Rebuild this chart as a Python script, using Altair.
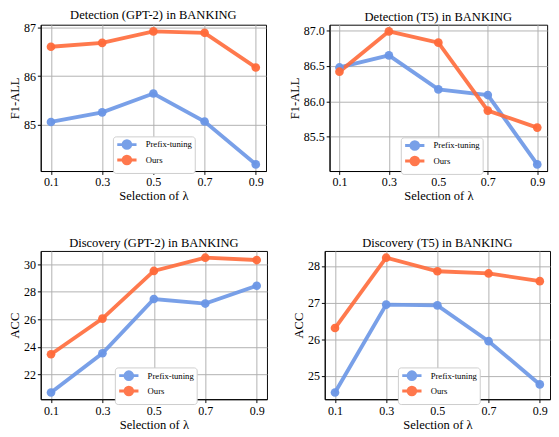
import altair as alt
import pandas as pd

lambdas = [0.1, 0.3, 0.5, 0.7, 0.9]
methods = ["Prefix-tuning", "Ours"]

det_gpt2_prefix = [85.05, 85.25, 85.64, 85.06, 84.17]
det_gpt2_ours = [86.61, 86.69, 86.93, 86.90, 86.18]
det_t5_prefix = [86.48, 86.65, 86.17, 86.09, 85.11]
det_t5_ours = [86.42, 86.99, 86.83, 85.87, 85.63]
dis_gpt2_prefix = [20.71, 23.55, 27.48, 27.15, 28.44]
dis_gpt2_ours = [23.48, 26.06, 29.51, 30.47, 30.30]
dis_t5_prefix = [24.55, 26.95, 26.93, 25.95, 24.77]
dis_t5_ours = [26.31, 28.23, 27.86, 27.80, 27.59]

titles = ["Detection (GPT-2) in BANKING", "Detection (T5) in BANKING",
          "Discovery (GPT-2) in BANKING", "Discovery (T5) in BANKING"]
ytitles = ["F1-ALL", "F1-ALL", "ACC", "ACC"]
yticks = [[85, 86, 87], [85.5, 86.0, 86.5, 87.0], [22, 24, 26, 28, 30], [25, 26, 27, 28]]
yformats = ["d", ".1f", "d", "d"]

BLUE = "#6a96e6"
ORANGE = "#ff6a3a"
FONT = "'Liberation Serif', 'Times New Roman', 'DejaVu Serif', serif"
LEGEND_SYMBOL = "M-2.5,0L2.5,0M1,0A1,1,0,1,1,-1,0A1,1,0,1,1,1,0Z"


def panel(title, ytitle, prefix, ours, ticks, fmt, width, height, lx, ly):
    df = pd.DataFrame({
        "lam": lambdas * 2,
        "val": prefix + ours,
        "method": [methods[0]] * len(lambdas) + [methods[1]] * len(lambdas),
    })
    allv = prefix + ours
    lo, hi = min(allv), max(allv)
    m = 0.05 * (hi - lo)
    base = alt.Chart(df).encode(
        x=alt.X("lam:Q", scale=alt.Scale(domain=[0.06, 0.94], nice=False, zero=False),
                axis=alt.Axis(values=lambdas, format=".1f", title="Selection of  λ",
                              labelFont=FONT, titleFont=FONT)),
        y=alt.Y("val:Q", scale=alt.Scale(domain=[lo - m, hi + m], nice=False, zero=False),
                axis=alt.Axis(values=ticks, format=fmt, title=ytitle,
                              labelFont=FONT, titleFont=FONT)),
        color=alt.Color("method:N", sort=methods,
                        scale=alt.Scale(domain=methods, range=[BLUE, ORANGE]),
                        legend=alt.Legend(title=None, orient="none", legendX=lx, legendY=ly,
                                          symbolType=LEGEND_SYMBOL, symbolSize=64,
                                          symbolStrokeWidth=3, symbolOpacity=0.9,
                                          symbolOffset=6, labelOffset=14,
                                          labelFont=FONT, labelFontSize=9, labelColor="black",
                                          padding=3, rowPadding=-7,
                                          strokeColor="#cccccc", fillColor="white",
                                          cornerRadius=3)),
    )
    line = base.mark_line(strokeWidth=4, opacity=0.9)
    pts = base.mark_point(filled=True, size=81, opacity=0.95)
    return alt.layer(line, pts).properties(
        width=width, height=height,
        title=alt.TitleParams(title, font=FONT, fontSize=13, fontWeight="normal", offset=0))


p1 = panel(titles[0], ytitles[0], det_gpt2_prefix, det_gpt2_ours, yticks[0], yformats[0], 234, 152, 75, 116)
p2 = panel(titles[1], ytitles[1], det_t5_prefix, det_t5_ours, yticks[1], yformats[1], 226, 152, 74, 117)
p3 = panel(titles[2], ytitles[2], dis_gpt2_prefix, dis_gpt2_ours, yticks[2], yformats[2], 235, 154, 77, 121)
p4 = panel(titles[3], ytitles[3], dis_t5_prefix, dis_t5_ours, yticks[3], yformats[3], 234, 154, 76, 121)

top = alt.hconcat(p1, p2, spacing=22).resolve_scale(color="independent").resolve_legend(color="independent")
bottom = alt.hconcat(p3, p4, spacing=25).resolve_scale(color="independent").resolve_legend(color="independent")

chart = alt.vconcat(top, bottom, spacing=34).resolve_scale(color="independent").resolve_legend(
    color="independent"
).properties(
    padding={"top": -8, "left": 0, "right": 0, "bottom": 0}
).configure(
    font=FONT
).configure_view(
    stroke="black", strokeWidth=1
).configure_axis(
    labelFont=FONT, labelFontSize=12.5, labelColor="black",
    titleFont=FONT, titleFontSize=13, titleFontWeight="normal", titleColor="black",
    domainColor="black", domainWidth=1, tickColor="black", tickSize=3.5, tickWidth=1,
    gridColor="#b0b0b0", gridWidth=1, gridOpacity=1,
    labelPadding=2, titlePadding=2,
).configure_legend(
    labelFont=FONT
)

chart.save("out.html", embed_options={"renderer": "svg", "actions": False})
